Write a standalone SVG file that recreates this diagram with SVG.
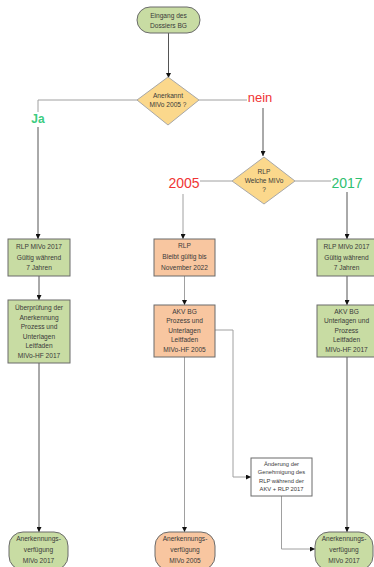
<svg xmlns="http://www.w3.org/2000/svg" width="374" height="567" viewBox="0 0 374 567">
<style>
.t{font-family:"Liberation Sans",Arial,sans-serif;font-size:6.6px;fill:#3a3a3a;text-anchor:middle}
.s{font-size:5.8px}
.g{fill:#c8dca3;stroke:#6b6b6b;stroke-width:1}
.o{fill:#f8c6a0;stroke:#6b6b6b;stroke-width:1}
.d{fill:#fbd88c;stroke:#a8a8a8;stroke-width:1}
.w{fill:#ffffff;stroke:#6b6b6b;stroke-width:1}
.c{fill:none;stroke:#555;stroke-width:1}
.cl{fill:none;stroke:#a0a0a0;stroke-width:1}
.lab{font-family:"Liberation Sans",Arial,sans-serif;text-anchor:middle}
</style>
<defs>
<marker id="a" viewBox="0 0 6 6" refX="6" refY="3" markerWidth="5" markerHeight="5" orient="auto">
<path d="M0,0 L6,3 L0,6 z" fill="#111"/>
</marker>
</defs>
<g id="connectors">
<path class="c" d="M168.5,33 V78" marker-end="url(#a)"/>
<path class="cl" d="M147,100 H38 V112"/>
<path class="c" d="M38,127 V239" marker-end="url(#a)"/>
<path class="cl" d="M199,100 H247"/>
<path class="c" d="M263,108 V156" marker-end="url(#a)"/>
<path class="cl" d="M232,181 H200"/>
<path class="cl" d="M183,194 V239" marker-end="url(#a)"/>
<path class="cl" d="M295,181 H331"/>
<path class="c" d="M347,192 V239" marker-end="url(#a)"/>
<path class="c" d="M39,276 V300" marker-end="url(#a)"/>
<path class="cl" d="M184.5,276 V305" marker-end="url(#a)"/>
<path class="c" d="M347,276 V305" marker-end="url(#a)"/>
<path class="c" d="M39,363 V532" marker-end="url(#a)"/>
<path class="cl" d="M184.5,357 V532" marker-end="url(#a)"/>
<path class="c" d="M347,357 V532" marker-end="url(#a)"/>
<path class="cl" d="M215,330 H233 V477 H251" marker-end="url(#a)"/>
<path class="cl" d="M281.5,496 V549 H315" marker-end="url(#a)"/>
</g>
<g id="start">
<rect class="g" x="137" y="7" width="63" height="26" rx="13"/>
<text class="t" x="168.5" y="17.5">Eingang des</text>
<text class="t" x="168.5" y="28">Dossiers BG</text>
</g>
<g id="q1">
<path class="d" d="M168,77 L199,100 L168,125 L137,100 z"/>
<text class="t" x="168" y="98">Anerkannt</text>
<text class="t" x="168" y="107">MIVo 2005 ?</text>
</g>
<g id="lbl-ja"><text class="lab" x="38" y="123" font-size="12" font-weight="bold" fill="#3ccc80">Ja</text></g>
<g id="lbl-nein"><text class="lab" x="260" y="102" font-size="13" fill="#f03434">nein</text></g>
<g id="q2">
<path class="d" d="M264,157 L295,181 L264,204 L232,181 z"/>
<text class="t" x="264" y="174">RLP</text>
<text class="t" x="264" y="183">Welche MIVo</text>
<text class="t" x="264" y="192">?</text>
</g>
<g id="lbl-2005"><text class="lab" x="184" y="188" font-size="14" fill="#f03434">2005</text></g>
<g id="lbl-2017"><text class="lab" x="347" y="188" font-size="14" fill="#2ec070">2017</text></g>
<g id="l1">
<rect class="g" x="8" y="239" width="62" height="37"/>
<text class="t" x="39" y="249">RLP MIVo 2017</text>
<text class="t" x="39" y="259.5">Gültig während</text>
<text class="t" x="39" y="270">7 Jahren</text>
</g>
<g id="l2">
<rect class="g" x="8" y="300" width="62" height="63"/>
<text class="t" x="39" y="310">Überprüfung der</text>
<text class="t" x="39" y="319.5">Anerkennung</text>
<text class="t" x="39" y="329">Prozess und</text>
<text class="t" x="39" y="338.5">Unterlagen</text>
<text class="t" x="39" y="348">Leitfaden</text>
<text class="t" x="39" y="357.5">MIVo-HF 2017</text>
</g>
<g id="m1">
<rect class="o" x="154" y="239" width="61" height="37"/>
<text class="t" x="184.5" y="247.5">RLP</text>
<text class="t" x="184.5" y="258.5">Bleibt gültig bis</text>
<text class="t" x="184.5" y="270">November 2022</text>
</g>
<g id="m2">
<rect class="o" x="154" y="305" width="61" height="52"/>
<text class="t" x="184.5" y="313.5">AKV BG</text>
<text class="t" x="184.5" y="323">Prozess und</text>
<text class="t" x="184.5" y="332.5">Unterlagen</text>
<text class="t" x="184.5" y="342">Leitfaden</text>
<text class="t" x="184.5" y="351.5">MIVo-HF 2005</text>
</g>
<g id="r1">
<rect class="g" x="317" y="239" width="60" height="37"/>
<text class="t" x="346.5" y="249">RLP MIVo 2017</text>
<text class="t" x="346.5" y="259.5">Gültig während</text>
<text class="t" x="346.5" y="270">7 Jahren</text>
</g>
<g id="r2">
<rect class="g" x="317" y="305" width="60" height="52"/>
<text class="t" x="346.5" y="313.5">AKV BG</text>
<text class="t" x="346.5" y="323">Unterlagen und</text>
<text class="t" x="346.5" y="332.5">Prozess</text>
<text class="t" x="346.5" y="342">Leitfaden</text>
<text class="t" x="346.5" y="351.5">MIVo-HF 2017</text>
</g>
<g id="change">
<rect class="w" x="251" y="458" width="61" height="38"/>
<text class="t s" x="281.5" y="465.5">Änderung der</text>
<text class="t s" x="281.5" y="474">Genehmigung des</text>
<text class="t s" x="281.5" y="482.5">RLP während der</text>
<text class="t s" x="281.5" y="491">AKV + RLP 2017</text>
</g>
<g id="e1">
<rect class="g" x="9" y="532" width="59" height="38" rx="14"/>
<text class="t" x="38.5" y="541">Anerkennungs-</text>
<text class="t" x="38.5" y="552">verfügung</text>
<text class="t" x="38.5" y="563">MIVo 2017</text>
</g>
<g id="e2">
<rect class="o" x="155" y="532" width="60" height="38" rx="14"/>
<text class="t" x="185" y="541">Anerkennungs-</text>
<text class="t" x="185" y="552">verfügung</text>
<text class="t" x="185" y="563">MIVo 2005</text>
</g>
<g id="e3">
<rect class="g" x="315" y="532" width="58" height="38" rx="14"/>
<text class="t" x="344" y="541">Anerkennungs-</text>
<text class="t" x="344" y="552">verfügung</text>
<text class="t" x="344" y="563">MIVo 2017</text>
</g>
</svg>
